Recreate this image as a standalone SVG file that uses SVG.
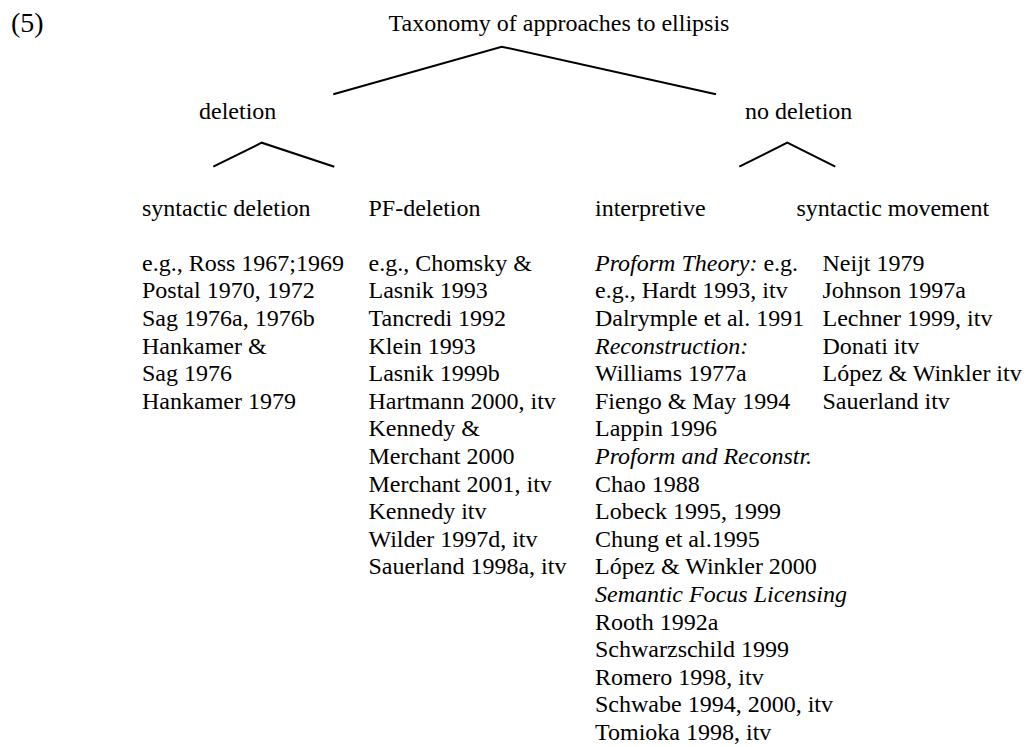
<svg xmlns="http://www.w3.org/2000/svg" width="1028" height="747" viewBox="0 0 1028 747">
  <style>
    text { font-family: "Liberation Serif", "Times New Roman", serif; font-size: 24px; fill: #000; }
    .it { font-style: italic; }
    .num { font-size: 28px; }
    .edge { fill: none; stroke: #000; stroke-width: 2; stroke-linejoin: miter; }
  </style>
  <rect width="1028" height="747" fill="#fff"/>

  <!-- example number -->
  <text id="label-5" class="num" x="11" y="32">(5)</text>

  <!-- tree branches -->
  <g id="connectors">
    <polyline class="edge" points="333.3,94.3 501.7,46.7 716,94.3"/>
    <polyline class="edge" points="213.3,166.7 261.7,142.7 334.3,166.7"/>
    <polyline class="edge" points="739.3,166.7 787.3,142.7 835.3,166.7"/>
  </g>

  <g id="node-root">
    <text x="388.5" y="30.5">Taxonomy of approaches to ellipsis</text>
  </g>

  <g id="node-deletion">
    <text x="199" y="118.5">deletion</text>
  </g>

  <g id="node-no-deletion">
    <text x="745" y="118.5">no deletion</text>
  </g>

  <g id="node-syntactic-deletion">
    <text x="142" y="215.5">syntactic deletion</text>
    <text x="142" y="270.7">e.g., Ross 1967;1969<tspan x="142" dy="27.6">Postal 1970, 1972</tspan><tspan x="142" dy="27.6">Sag 1976a, 1976b</tspan><tspan x="142" dy="27.6">Hankamer &amp;</tspan><tspan x="142" dy="27.6">Sag 1976</tspan><tspan x="142" dy="27.6">Hankamer 1979</tspan></text>
  </g>

  <g id="node-pf-deletion">
    <text x="368.5" y="215.5">PF-deletion</text>
    <text x="368.5" y="270.7">e.g., Chomsky &amp;<tspan x="368.5" dy="27.6">Lasnik 1993</tspan><tspan x="368.5" dy="27.6">Tancredi 1992</tspan><tspan x="368.5" dy="27.6">Klein 1993</tspan><tspan x="368.5" dy="27.6">Lasnik 1999b</tspan><tspan x="368.5" dy="27.6">Hartmann 2000, itv</tspan><tspan x="368.5" dy="27.6">Kennedy &amp;</tspan><tspan x="368.5" dy="27.6">Merchant 2000</tspan><tspan x="368.5" dy="27.6">Merchant 2001, itv</tspan><tspan x="368.5" dy="27.6">Kennedy itv</tspan><tspan x="368.5" dy="27.6">Wilder 1997d, itv</tspan><tspan x="368.5" dy="27.6">Sauerland 1998a, itv</tspan></text>
  </g>

  <g id="node-interpretive">
    <text x="595" y="215.5">interpretive</text>
    <text x="595" y="270.7"><tspan class="it">Proform Theory:</tspan> e.g.<tspan x="595" dy="27.6">e.g., Hardt 1993, itv</tspan><tspan x="595" dy="27.6">Dalrymple et al. 1991</tspan><tspan x="595" dy="27.6" class="it">Reconstruction:</tspan><tspan x="595" dy="27.6">Williams 1977a</tspan><tspan x="595" dy="27.6">Fiengo &amp; May 1994</tspan><tspan x="595" dy="27.6">Lappin 1996</tspan><tspan x="595" dy="27.6" class="it">Proform and Reconstr.</tspan><tspan x="595" dy="27.6">Chao 1988</tspan><tspan x="595" dy="27.6">Lobeck 1995, 1999</tspan><tspan x="595" dy="27.6">Chung et al.1995</tspan><tspan x="595" dy="27.6">López &amp; Winkler 2000</tspan><tspan x="595" dy="27.6" class="it">Semantic Focus Licensing</tspan><tspan x="595" dy="27.6">Rooth 1992a</tspan><tspan x="595" dy="27.6">Schwarzschild 1999</tspan><tspan x="595" dy="27.6">Romero 1998, itv</tspan><tspan x="595" dy="27.6">Schwabe 1994, 2000, itv</tspan><tspan x="595" dy="27.6">Tomioka 1998, itv</tspan></text>
  </g>

  <g id="node-syntactic-movement">
    <text x="796.5" y="215.5">syntactic movement</text>
    <text x="822.5" y="270.7">Neijt 1979<tspan x="822.5" dy="27.6">Johnson 1997a</tspan><tspan x="822.5" dy="27.6">Lechner 1999, itv</tspan><tspan x="822.5" dy="27.6">Donati itv</tspan><tspan x="822.5" dy="27.6">López &amp; Winkler itv</tspan><tspan x="822.5" dy="27.6">Sauerland itv</tspan></text>
  </g>
</svg>
